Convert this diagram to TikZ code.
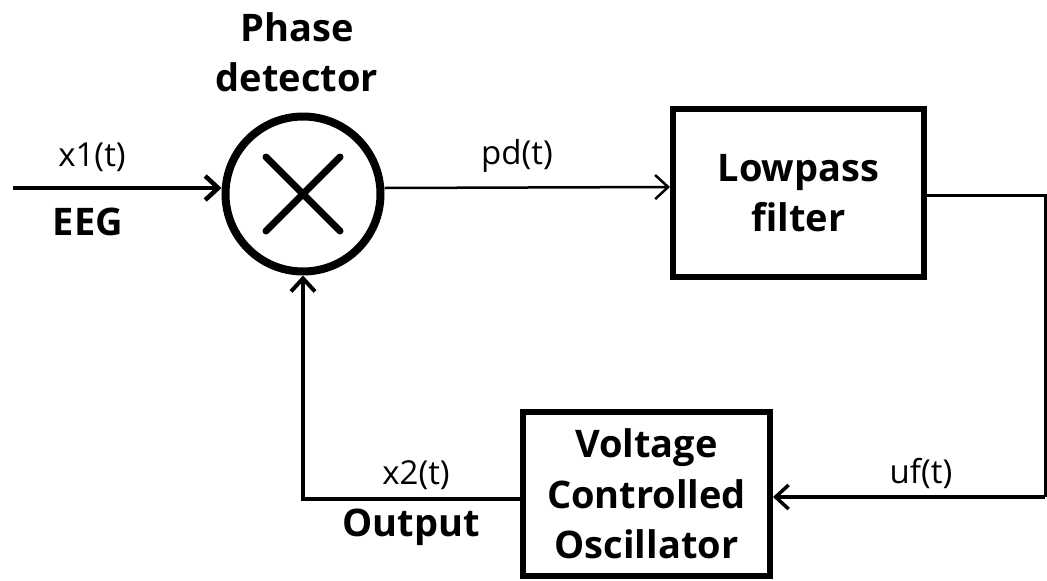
\documentclass[tikz,border=0pt]{standalone}
\usepackage{fontspec}
\setmainfont{Open Sans}
\usetikzlibrary{arrows.meta,positioning,calc}

\begin{document}
\begin{tikzpicture}[x=1pt,y=-1pt, >={Straight Barb[length=13pt,width=24pt]},
 blk/.style={draw,line width=6pt,inner sep=0pt,align=center,font=\fontsize{38}{50.5}\selectfont\bfseries},
 mix/.style={draw,circle,line width=8pt,minimum size=155pt,inner sep=0pt},
 lab/.style={font=\fontsize{33}{38}\selectfont,inner sep=0pt},
 blab/.style={font=\fontsize{38}{50.5}\selectfont\bfseries,align=center,inner sep=0pt},
 sig/.style={->,line width=3.5pt}, wire/.style={line width=3pt}]
\useasboundingbox (0,0) rectangle (1047,581);
\node[mix] (pd) at (303,194) {};
\draw[line width=7pt,line cap=round] ($(pd)+(-37,-37)$) -- ($(pd)+(37,37)$);
\draw[line width=7pt,line cap=round] ($(pd)+(-37,37)$) -- ($(pd)+(37,-37)$);
\node[blk,minimum width=251pt,minimum height=168pt] (lpf) at (798.5,193) {Lowpass\\filter};
\node[blk,minimum width=247pt,minimum height=164pt] (vco) at (646.5,494) {Voltage\\Controlled\\Oscillator};
\node[blab] (pdl) at (297,52) {Phase\\detector};
\coordinate (in) at (13,188);
\coordinate (rt) at (1045,195);
\node[lab] (x1) at (92,157) {x1(t)};
\node[blab] (eeg) at (88,222) {EEG};
\node[lab] (pdt) at (517,156) {pd(t)};
\node[lab] (uf) at (921,473) {uf(t)};
\node[lab] (x2) at (416,475) {x2(t)};
\node[blab] (out) at (411,527) {Output};
\draw[sig,line width=4.5pt] (in) -- (pd.west |- in);
\draw[sig,line width=2.5pt] ($(pd.east)+(0,-6)$) -- ($(lpf.west)+(0,-6)$);
\draw[wire] (lpf.east |- rt) -- (rt) -- (rt |- vco.east) -- ++(0,3);
\draw[sig] ($(rt |- vco.east)+(0,3)$) -- ($(vco.east)+(0,3)$);
\draw[sig,line width=4pt] ($(vco.west)+(0,5)$) -| (pd.south);
\end{tikzpicture}
\end{document}
